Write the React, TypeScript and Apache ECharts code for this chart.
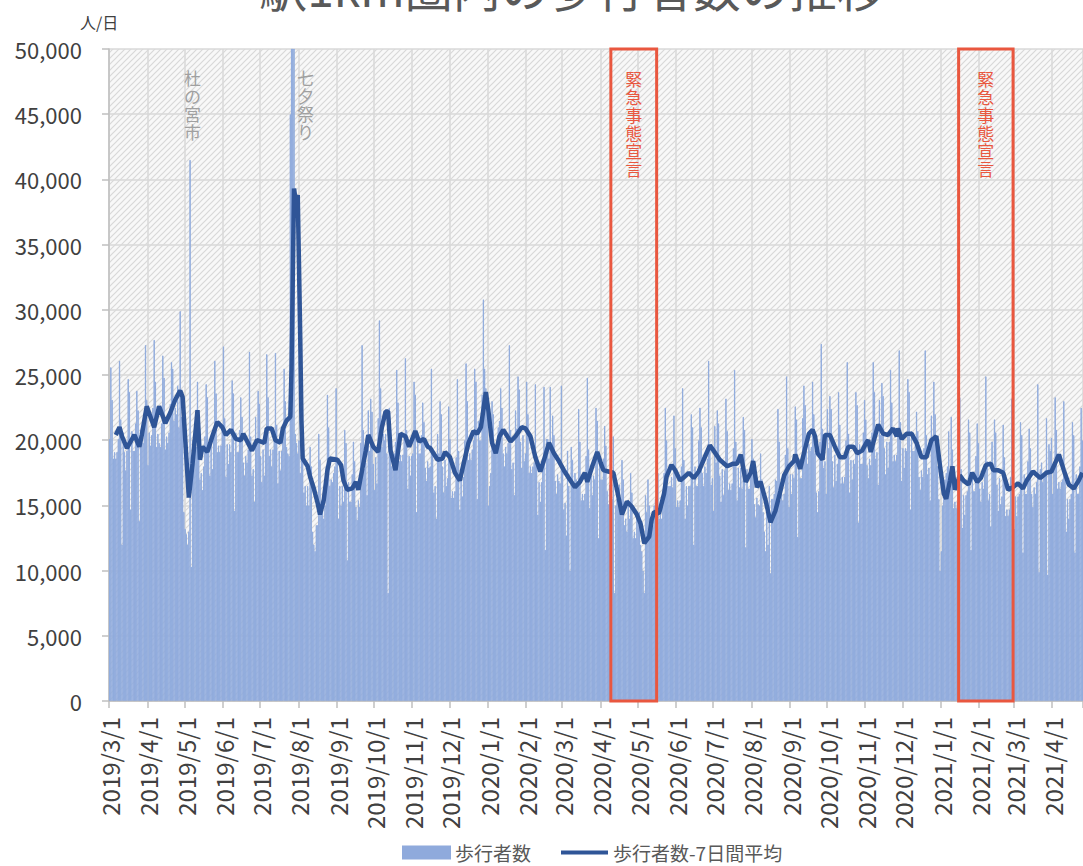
import React, { useEffect, useRef } from "react";
import * as echarts from "echarts";

const FONT = "'Noto Sans CJK JP', 'Noto Sans', sans-serif";

// 歩行者数 (千人/日), 2019/3/1 から日ごと
const daily2019Spring = [
  20.1, 25.6, 23.1, 18.6, 19.1, 18.6, 19.1,
  20.1, 26.1, 21.6, 12.0, 20.6, 19.1, 17.7,
  19.2, 24.7, 23.7, 14.7, 20.7, 19.2, 19.2,
  21.3, 23.8, 22.3, 13.8, 20.8, 20.3, 19.8,
  22.1, 27.3, 23.1, 18.1, 20.6, 19.6, 20.4,
  22.5, 27.7, 24.5, 19.5, 20.5, 19.8, 19.5,
  21.3, 26.5, 24.8, 19.3, 20.3, 19.8, 20.6,
  22.8, 26.0, 25.5, 21.5, 22.5, 22.0, 24.2,
  21.0, 29.9, 21.8, 21.7, 14.5, 13.2, 12.8,
  12.0, 13.0, 41.5, 10.3, 20.0, 19.8, 20.5,
  19.5, 24.5, 22.0, 17.0, 17.5, 16.2, 18.0,
  20.3, 24.3, 23.3, 19.3, 17.3, 19.8, 17.8,
  20.6, 26.1, 23.6, 19.1, 19.6, 19.1, 19.6,
];
const daily2019Summer = [
  21.2, 27.2, 21.7, 17.2, 19.7, 18.2, 19.7,
  19.1, 24.6, 23.6, 14.6, 20.6, 19.1, 19.1,
  20.8, 23.3, 21.8, 18.3, 17.3, 18.8, 18.3,
  19.3, 26.8, 20.3, 17.3, 17.8, 15.3, 21.8,
  19.8, 23.8, 22.8, 18.8, 16.8, 19.3, 17.3,
  20.3, 26.6, 23.3, 18.8, 19.3, 18.0, 19.3,
  20.7, 26.7, 21.2, 16.7, 19.2, 17.7, 19.2,
  20.5, 25.5, 23.0, 19.5, 19.0, 18.8, 45.0,
  57.0, 60.0, 55.0, 20.5, 19.8, 19.0, 20.0,
  17.5, 22.0, 20.5, 16.0, 16.5, 15.0, 16.5,
  15.0, 19.5, 18.0, 13.0, 12.0, 11.5, 13.5,
  13.5, 20.5, 18.5, 14.5, 14.8, 14.0, 15.0,
  18.0, 23.5, 21.0, 16.5, 17.0, 16.8, 17.5,
];
const daily2019Autumn = [
  18.0, 24.0, 18.5, 14.0, 16.5, 15.0, 16.5,
  15.3, 20.8, 19.8, 10.8, 16.8, 15.3, 15.3,
  17.4, 19.9, 18.4, 14.9, 13.9, 15.4, 14.9,
  19.8, 27.3, 20.8, 17.8, 18.3, 15.8, 22.3,
  19.2, 23.2, 22.2, 18.2, 16.2, 18.7, 16.7,
  21.7, 29.2, 24.0, 19.5, 20.5, 20.0, 20.5,
  19.0, 8.3, 22.5, 19.5, 18.0, 18.2, 19.0,
  19.9, 25.4, 22.9, 18.4, 18.9, 18.4, 18.9,
  20.3, 26.3, 20.8, 16.3, 18.8, 17.3, 18.8,
  19.0, 24.5, 23.5, 14.5, 20.5, 19.0, 19.0,
  20.4, 22.9, 21.4, 17.9, 16.9, 18.4, 17.9,
  18.0, 25.5, 19.0, 16.0, 16.5, 14.0, 20.5,
  19.0, 23.0, 22.0, 18.0, 16.0, 18.5, 16.5,
  17.1, 22.6, 20.1, 15.6, 16.1, 15.6, 16.1,
  18.7, 24.7, 19.2, 14.7, 17.2, 15.7, 17.2,
  20.0, 25.9, 23.0, 18.5, 19.0, 18.5, 19.3,
  20.0, 25.5, 24.5, 15.5, 21.5, 20.0, 20.0,
];
const daily2020Winter = [
  23.5, 30.8, 25.5, 24.0, 22.0, 15.0, 16.5,
  17.5, 23.0, 22.0, 19.0, 19.5, 19.2, 21.0,
  21.5, 24.0, 22.5, 19.0, 18.0, 19.5, 19.0,
  19.8, 27.3, 20.8, 17.8, 18.3, 15.8, 22.3,
  20.9, 24.9, 23.9, 19.9, 17.9, 20.4, 18.4,
  19.0, 24.5, 22.0, 17.5, 18.0, 17.5, 18.0,
  18.3, 24.3, 18.8, 14.3, 16.8, 15.3, 16.8,
  18.6, 24.1, 11.6, 20.1, 20.1, 18.6, 24.1,
  19.4, 21.9, 20.4, 16.9, 15.9, 17.4, 16.9,
  16.7, 24.2, 17.7, 14.7, 15.2, 12.7, 19.2,
  16.5, 10.0, 19.5, 18.5, 16.5, 17.5, 17.0,
  16.9, 22.4, 19.9, 15.4, 15.9, 15.4, 15.9,
  18.8, 24.8, 19.3, 14.8, 17.3, 15.8, 17.3,
  17.0, 22.5, 21.5, 12.5, 18.5, 17.0, 17.0,
  18.6, 21.1, 19.6, 16.1, 15.1, 16.6, 16.1,
];
const daily2020Spring = [
  15.5, 20.3, 8.3, 15.0, 15.5, 15.2, 16.6,
  14.5, 18.5, 17.0, 13.5, 14.0, 13.0, 15.2,
  14.0, 17.5, 16.0, 12.5, 13.0, 12.5, 14.6,
  14.0, 14.5, 12.0, 11.5, 10.0, 8.3, 15.8,
  14.5, 17.0, 15.0, 13.0, 13.5, 13.5, 15.0,
  15.5, 19.5, 17.5, 14.0, 14.5, 14.0, 14.9,
  17.5, 22.5, 20.0, 16.5, 16.5, 16.5, 17.2,
  16.4, 21.9, 19.4, 14.9, 15.4, 14.9, 15.4,
  18.0, 24.0, 18.5, 14.0, 16.5, 15.0, 16.5,
  16.5, 22.0, 21.0, 12.0, 18.0, 16.5, 16.5,
  20.0, 22.5, 21.0, 17.5, 16.5, 18.0, 17.5,
];
const daily2020Summer = [
  18.6, 26.1, 19.6, 16.6, 17.1, 14.6, 21.1,
  18.3, 22.3, 21.3, 17.3, 15.3, 17.8, 15.8,
  17.7, 23.2, 20.7, 16.2, 16.7, 16.2, 16.7,
  19.4, 25.4, 19.9, 15.4, 17.9, 16.4, 17.9,
  16.3, 21.8, 20.8, 11.8, 17.8, 16.3, 16.3,
  17.6, 20.1, 18.6, 15.1, 14.1, 15.6, 15.1,
  15.0, 19.0, 17.0, 14.5, 13.0, 11.5, 15.0,
  12.0, 16.5, 9.8, 15.5, 15.5, 15.9, 17.0,
  16.9, 22.4, 19.9, 15.4, 15.9, 15.4, 15.9,
  18.9, 24.9, 19.4, 14.9, 17.4, 15.9, 17.4,
  17.1, 22.6, 21.6, 12.6, 18.6, 17.1, 17.1,
  21.7, 24.2, 22.7, 19.2, 18.2, 19.7, 19.2,
  19.5, 24.5, 22.0, 19.0, 16.0, 14.5, 16.1,
  19.9, 27.4, 20.9, 17.9, 18.4, 15.9, 22.4,
];
const daily2020Autumn = [
  19.4, 23.4, 22.4, 18.4, 16.4, 18.9, 16.9,
  18.2, 23.7, 21.2, 16.7, 17.2, 16.7, 17.2,
  20.0, 26.0, 20.5, 16.0, 18.5, 17.0, 18.5,
  18.2, 23.7, 22.7, 13.7, 19.7, 18.2, 18.2,
  20.6, 23.1, 21.6, 18.1, 17.1, 18.6, 18.1,
  20.6, 26.0, 23.7, 18.6, 19.1, 16.6, 23.1,
  20.4, 24.4, 23.4, 19.4, 17.4, 19.9, 17.9,
  19.9, 25.4, 22.9, 18.4, 18.9, 18.4, 18.9,
  20.9, 26.9, 21.4, 16.9, 19.4, 17.9, 19.4,
  19.2, 24.7, 23.7, 14.7, 20.7, 19.2, 19.2,
  19.7, 22.2, 20.7, 17.2, 16.2, 17.7, 17.2,
  19.4, 26.9, 20.4, 17.4, 17.9, 15.4, 21.9,
  20.0, 24.5, 22.0, 19.5, 18.0, 15.5, 10.0,
];
const daily2021 = [
  11.5, 15.0, 16.5, 17.0, 17.5, 18.0, 20.7,
  16.3, 21.8, 19.3, 14.8, 15.3, 14.8, 15.3,
  17.3, 23.3, 17.8, 13.3, 15.8, 14.3, 15.8,
  16.1, 21.6, 20.6, 11.6, 17.6, 16.1, 16.1,
  18.8, 21.3, 19.8, 16.3, 15.3, 16.8, 16.3,
  17.4, 24.9, 18.4, 15.4, 15.9, 13.4, 19.9,
  17.6, 21.6, 20.6, 16.6, 14.6, 17.1, 15.1,
  15.7, 21.2, 18.7, 14.2, 14.7, 14.2, 14.7,
  17.2, 23.2, 17.7, 13.2, 15.7, 14.2, 15.7,
  15.9, 21.4, 20.4, 11.4, 17.4, 15.9, 15.9,
  18.4, 20.9, 19.4, 15.9, 14.9, 16.4, 15.9,
  16.8, 24.3, 9.9, 17.8, 18.3, 16.8, 17.3,
  17.7, 21.7, 9.7, 19.7, 19.2, 20.2, 15.9,
  17.8, 23.3, 20.8, 16.3, 16.8, 16.3, 16.8,
  17.0, 23.0, 17.5, 13.0, 15.5, 14.0, 15.5,
  15.9, 21.4, 20.4, 11.4, 17.4, 15.9, 15.9,
  18.0, 22.5, 20.0,
];

// 7日間平均 (千人/日): 2019/3/1 からの日数と値
const avgDayOffset = [
  5, 8, 10, 14, 20, 24, 26, 30, 36, 40, 45, 49, 53, 57, 59, 64, 67, 71, 73, 75,
  79, 83, 87, 91, 94, 98, 102, 106, 108, 115, 119, 125, 127, 131, 134, 138, 140, 143, 146, 147,
  148, 149, 150, 151, 152, 153, 154, 155, 156, 160, 162, 165, 168, 170, 173, 176, 178, 184, 187, 189,
  192, 196, 199, 201, 204, 207, 209, 213, 217, 220, 223, 225, 227, 231, 235, 239, 242, 247, 250, 254,
  257, 259, 265, 269, 271, 275, 279, 283, 286, 290, 294, 297, 300, 304, 306, 309, 312, 315, 318, 324,
  328, 333, 336, 340, 344, 348, 351, 355, 359, 363, 367, 371, 376, 380, 384, 386, 390, 394, 397, 399,
  403, 407, 410, 414, 418, 422, 426, 429, 432, 436, 438, 440, 444, 448, 450, 454, 457, 461, 468, 472,
  476, 480, 485, 488, 493, 499, 504, 507, 510, 514, 518, 520, 523, 526, 530, 534, 538, 542, 545, 549,
  553, 554, 558, 561, 565, 568, 570, 572, 576, 578, 582, 586, 590, 594, 597, 601, 604, 608, 612, 613,
  615, 619, 621, 625, 629, 633, 636, 637, 640, 644, 648, 652, 656, 660, 664, 668, 671, 674, 676, 679,
  681, 683, 687, 690, 694, 697, 701, 704, 708, 712, 714, 718, 722, 726, 730, 734, 738, 741, 746, 752,
  757, 761, 767, 771, 775, 779, 783, 786,
];
const avgValueK = [
  20.4, 21.0, 20.3, 19.4, 20.4, 19.5, 20.4, 22.6, 21.0, 22.6, 21.3, 22.1, 23.1, 23.8, 23.3, 15.6, 18.2, 22.3, 18.5, 19.5,
  19.1, 20.3, 21.4, 21.0, 20.4, 20.8, 20.1, 20.0, 20.5, 19.2, 20.0, 19.8, 20.9, 20.9, 20.0, 19.8, 20.9, 21.5, 21.8, 25.5,
  32.5, 39.3, 38.6, 38.4, 38.8, 33.5, 28.0, 21.5, 18.6, 18.0, 17.2, 16.3, 15.2, 14.3, 15.4, 17.7, 18.6, 18.5, 18.1, 16.9,
  16.2, 16.3, 16.8, 16.2, 17.7, 19.2, 20.4, 19.5, 19.1, 21.0, 22.2, 22.2, 19.2, 17.7, 20.5, 20.3, 19.5, 20.7, 19.9, 20.1,
  19.5, 19.4, 18.5, 18.6, 19.1, 18.7, 17.5, 16.9, 18.2, 19.8, 20.7, 20.5, 21.0, 23.7, 22.3, 19.8, 19.0, 20.3, 20.8, 19.9,
  20.3, 21.0, 20.9, 20.3, 18.7, 17.6, 18.5, 19.8, 19.0, 18.4, 17.7, 17.1, 16.4, 16.8, 17.5, 16.8, 18.0, 19.1, 18.2, 17.7,
  17.6, 17.5, 16.2, 14.3, 15.3, 14.9, 14.3, 13.6, 12.1, 12.6, 13.9, 14.5, 14.4, 15.9, 17.2, 18.1, 17.7, 16.9, 17.5, 17.1,
  17.6, 18.5, 19.6, 19.2, 18.5, 18.0, 18.2, 18.2, 18.9, 16.8, 17.5, 18.4, 16.4, 16.8, 15.4, 13.7, 14.6, 16.1, 17.3, 18.0,
  18.4, 18.9, 17.8, 19.0, 20.5, 20.8, 20.3, 19.0, 18.5, 20.4, 20.4, 19.5, 18.7, 18.7, 19.5, 19.5, 19.0, 19.2, 19.9, 20.0,
  19.1, 20.5, 21.2, 20.5, 20.4, 20.9, 20.3, 20.9, 20.1, 20.5, 20.5, 19.8, 18.7, 18.7, 20.0, 20.3, 18.0, 15.9, 15.5, 16.9,
  18.0, 16.2, 17.3, 16.9, 16.6, 17.5, 16.8, 17.1, 18.1, 18.2, 17.7, 17.7, 17.5, 16.2, 16.4, 16.7, 16.3, 16.9, 17.6, 17.1,
  17.5, 17.6, 18.9, 17.7, 16.6, 16.3, 16.9, 17.5,
];

// 緊急事態宣言の期間
const emergencyStart = ["2020/4/9", "2021/1/15"];
const emergencyEnd = ["2020/5/16", "2021/2/28"];
const emergencyLabel = "緊急事態宣言";

const yTicks = { min: 0, max: 50000, interval: 5000 };

const dailyK = [
  ...daily2019Spring,
  ...daily2019Summer,
  ...daily2019Autumn,
  ...daily2020Winter,
  ...daily2020Spring,
  ...daily2020Summer,
  ...daily2020Autumn,
  ...daily2021,
];

const categories: string[] = dailyK.map((_, i) => {
  const dt = new Date(Date.UTC(2019, 2, 1 + i));
  return `${dt.getUTCFullYear()}/${dt.getUTCMonth() + 1}/${dt.getUTCDate()}`;
});

const isMonthStart = (i: number) => !!categories[i] && categories[i].split("/")[2] === "1";

const barData = dailyK.map((v) => Math.round(v * 1000));
const avgData: (number | null)[] = dailyK.map(() => null);
avgDayOffset.forEach((d, i) => {
  if (d < avgData.length) avgData[d] = Math.round(avgValueK[i] * 1000);
});

function makePattern() {
  const c = document.createElement("canvas");
  c.width = 6;
  c.height = 6;
  const g = c.getContext("2d")!;
  g.fillStyle = "#f8f8f8";
  g.fillRect(0, 0, 6, 6);
  g.strokeStyle = "#d8d8d8";
  g.lineWidth = 1.2;
  g.beginPath();
  g.moveTo(-1, 7);
  g.lineTo(7, -1);
  g.moveTo(-1, 1);
  g.lineTo(1, -1);
  g.moveTo(5, 7);
  g.lineTo(7, 5);
  g.stroke();
  return { image: c, repeat: "repeat" };
}

export default function App() {
  const ref = useRef<HTMLDivElement>(null);
  useEffect(() => {
    if (!ref.current) return;
    const chart = echarts.init(ref.current, undefined, { renderer: "svg" });
    const emergencyData = emergencyStart.map((s, i) => [
      categories.indexOf(s),
      categories.indexOf(emergencyEnd[i]),
      0,
    ]);
    const axisGray = "#bfbfbf";
    const gridGray = "#d9d9d9";
    const vText = (s: string) => s.split("").join("\n");
    chart.setOption({
      animation: false,
      grid: {
        left: 109,
        top: 49,
        right: 0,
        bottom: 165,
        show: true,
        backgroundColor: makePattern(),
        borderWidth: 0,
      },
      legend: {
        data: [
          { name: "歩行者数", icon: "rect" },
          { name: "歩行者数-7日間平均", icon: "path://M0,0 L48,0 L48,4 L0,4 Z" },
        ],
        left: 397,
        top: 838,
        itemWidth: 47,
        itemHeight: 12,
        itemGap: 30,
        textStyle: { fontSize: 19, color: "#595959", fontFamily: FONT },
      },
      xAxis: {
        type: "category",
        data: categories,
        boundaryGap: true,
        axisLine: { lineStyle: { color: axisGray, width: 1.5 } },
        axisTick: {
          show: true,
          interval: (i: number) => isMonthStart(i),
          length: 7,
          lineStyle: { color: axisGray, width: 1.5 },
        },
        axisLabel: {
          interval: (i: number) => isMonthStart(i),
          rotate: 90,
          margin: 16,
          fontSize: 24,
          color: "#404040",
          fontFamily: FONT,
        },
        splitLine: {
          show: true,
          interval: (i: number) => isMonthStart(i),
          lineStyle: { color: gridGray, width: 1.5 },
        },
      },
      yAxis: {
        type: "value",
        min: yTicks.min,
        max: yTicks.max,
        interval: yTicks.interval,
        axisLine: { show: true, lineStyle: { color: axisGray, width: 1.5 } },
        axisTick: { show: true, length: 7, lineStyle: { color: axisGray, width: 1.5 } },
        axisLabel: {
          formatter: (v: number) => v.toLocaleString("en-US"),
          fontSize: 22,
          color: "#404040",
          margin: 27,
          fontFamily: FONT,
        },
        splitLine: { show: true, lineStyle: { color: gridGray, width: 1.5 } },
      },
      graphic: [
        {
          type: "text",
          x: 572,
          y: 10,
          style: {
            text: "駅1km圏内の歩行者数の推移",
            fontSize: 48,
            fontFamily: FONT,
            fill: "#595959",
            align: "center",
            verticalAlign: "bottom",
          },
        },
        {
          type: "text",
          x: 80,
          y: 22,
          style: {
            text: "人/日",
            fontSize: 16,
            fontFamily: FONT,
            fill: "#404040",
            align: "left",
            verticalAlign: "middle",
          },
        },
        {
          type: "text",
          x: 192.5,
          y: 69,
          z: 20,
          style: {
            text: vText("杜の宮市"),
            fontSize: 17,
            lineHeight: 17.8,
            fontFamily: FONT,
            fill: "#a0a0a0",
            align: "center",
            verticalAlign: "top",
          },
        },
        {
          type: "text",
          x: 305.5,
          y: 69,
          z: 20,
          style: {
            text: vText("七夕祭り"),
            fontSize: 17,
            lineHeight: 17.8,
            fontFamily: FONT,
            fill: "#a0a0a0",
            align: "center",
            verticalAlign: "top",
          },
        },
      ],
      series: [
        {
          type: "bar",
          name: "歩行者数",
          data: barData,
          barCategoryGap: "0%",
          clip: true,
          itemStyle: { color: "#8FAADC", borderColor: "#8FAADC", borderWidth: 0.9 },
          z: 2,
        },
        {
          type: "line",
          name: "歩行者数-7日間平均",
          data: avgData,
          connectNulls: true,
          showSymbol: false,
          symbol: "none",
          lineStyle: { color: "#2F5597", width: 4.5 },
          itemStyle: { color: "#2F5597" },
          z: 3,
        },
        {
          type: "custom",
          name: "緊急事態宣言",
          data: emergencyData,
          encode: { x: [0, 1], y: 2 },
          z: 5,
          silent: true,
          renderItem: (_params: any, api: any) => {
            const p0 = api.coord([api.value(0), yTicks.max]);
            const p1 = api.coord([api.value(1), yTicks.min]);
            return {
              type: "group",
              children: [
                {
                  type: "rect",
                  shape: { x: p0[0], y: p0[1], width: p1[0] - p0[0], height: p1[1] - p0[1] },
                  style: { fill: "none", stroke: "#E9573F", lineWidth: 3 },
                },
                {
                  type: "text",
                  x: (p0[0] + p1[0]) / 2,
                  y: p0[1] + 20,
                  style: {
                    text: vText(emergencyLabel),
                    fill: "#E9573F",
                    fontSize: 17,
                    lineHeight: 18,
                    fontFamily: FONT,
                    align: "center",
                    verticalAlign: "top",
                  },
                },
              ],
            };
          },
        },
      ],
    });
    return () => chart.dispose();
  }, []);
  return (
    <div
      ref={ref}
      style={{ position: "fixed", left: 0, top: 0, width: 1083, height: 866, background: "#fff" }}
    />
  );
}
